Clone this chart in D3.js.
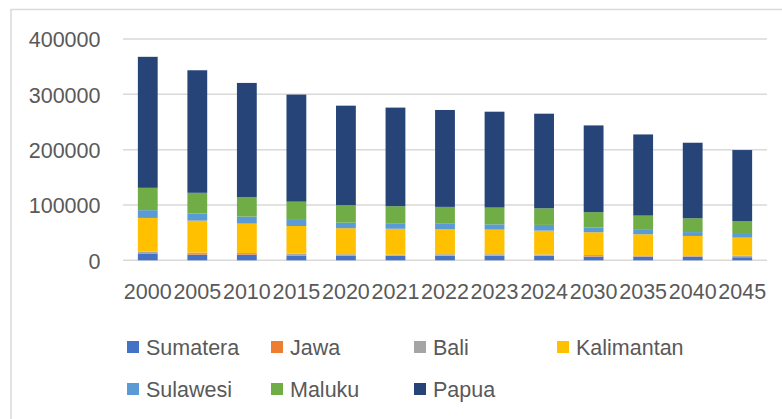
<!DOCTYPE html>
<html><head><meta charset="utf-8">
<script src="https://cdn.jsdelivr.net/npm/d3@7/dist/d3.min.js"></script>
<style>html,body{margin:0;padding:0;background:#fff;overflow:hidden}</style>
</head><body><svg id="c" width="782" height="419"></svg>
<script>
const years = ["2000","2005","2010","2015","2020","2021","2022","2023","2024","2030","2035","2040","2045"];
const seriesNames = ["Sumatera","Jawa","Bali","Kalimantan","Sulawesi","Maluku","Papua"];
const colors = ["#4472C4","#ED7D31","#A5A5A5","#FFC000","#5B9BD5","#70AD47","#264478"];
const sumatera   = [12000,10000,10000,8300,8300,7800,8000,8000,7800,6500,6400,6300,5400];
const jawa       = [1200,1200,1100,1100,1000,900,1000,1000,900,900,800,800,700];
const bali       = [2300,2600,2100,2600,1700,1300,2000,2000,1800,2200,1800,1900,2200];
const kalimantan = [61100,57900,53100,50000,47000,47000,45000,44500,43100,41100,38000,35000,32700];
const sulawesi   = [14000,12700,12700,11000,10000,9000,10000,9500,10400,8300,8000,7000,6600];
const maluku     = [40400,37600,35000,33000,31600,31800,30500,30300,30000,28000,25800,25000,23400];
const papua      = [236800,221500,206600,193500,179900,178200,175200,173300,171000,156800,146700,136500,128300];
const yTicks = [0,100000,200000,300000,400000];

const seriesData = [sumatera,jawa,bali,kalimantan,sulawesi,maluku,papua];
const rows = years.map((y,i)=>{const r={year:y}; seriesNames.forEach((s,k)=>r[s]=seriesData[k][i]); return r;});
const stack = d3.stack().keys(seriesNames)(rows);

const svg = d3.select("#c");
const font = "'Liberation Sans', Arial, sans-serif";
const fs = 21.5;
// frame
svg.append("rect").attr("x",11).attr("y",9.5).attr("width",800).attr("height",420)
  .attr("fill","none").attr("stroke","#d9d9d9").attr("stroke-width",1.5);

const x = d3.scaleBand().domain(years).range([123,767]).paddingInner(0.6).paddingOuter(0.3);
const y = d3.scaleLinear().domain([0,400000]).range([260.3,39]);

// gridlines
svg.append("g").selectAll("line").data(yTicks).join("line")
  .attr("x1",123).attr("x2",767).attr("y1",d=>y(d)).attr("y2",d=>y(d))
  .attr("stroke","#d9d9d9").attr("stroke-width",1.5);

// bars
svg.append("g").selectAll("g").data(stack).join("g")
  .attr("fill",(d,i)=>colors[i])
  .selectAll("rect").data(d=>d).join("rect")
  .attr("x",d=>x(d.data.year)).attr("width",x.bandwidth())
  .attr("y",d=>y(d[1])).attr("height",d=>y(d[0])-y(d[1]));

// y axis
const ya = svg.append("g").attr("transform","translate(100.5,0)")
  .call(d3.axisLeft(y).tickValues(yTicks).tickSize(0).tickPadding(0).tickFormat(d3.format("d")));
ya.select(".domain").remove();
ya.selectAll("text").attr("font-family",font).attr("font-size",fs).attr("fill","#595959").attr("dy","0.36em");

// x axis
const xa = svg.append("g").attr("transform","translate(0,283.5)")
  .call(d3.axisBottom(x).tickSize(0).tickPadding(0));
xa.select(".domain").remove();
xa.selectAll("text").attr("font-family",font).attr("font-size",fs).attr("fill","#595959").attr("dy","0.72em");

// legend
const legendPos = [[127,347],[271,347],[414,347],[557,347],[127,389],[271,389],[414,389]];
const lg = svg.append("g").selectAll("g").data(seriesNames).join("g")
  .attr("transform",(d,i)=>`translate(${legendPos[i][0]},${legendPos[i][1]})`);
lg.append("rect").attr("x",0).attr("y",-6).attr("width",12).attr("height",12).attr("fill",(d,i)=>colors[i]);
lg.append("text").attr("x",19).attr("y",0).attr("dy","0.36em").text(d=>d)
  .attr("font-family",font).attr("font-size",fs).attr("fill","#595959");
</script></body></html>
